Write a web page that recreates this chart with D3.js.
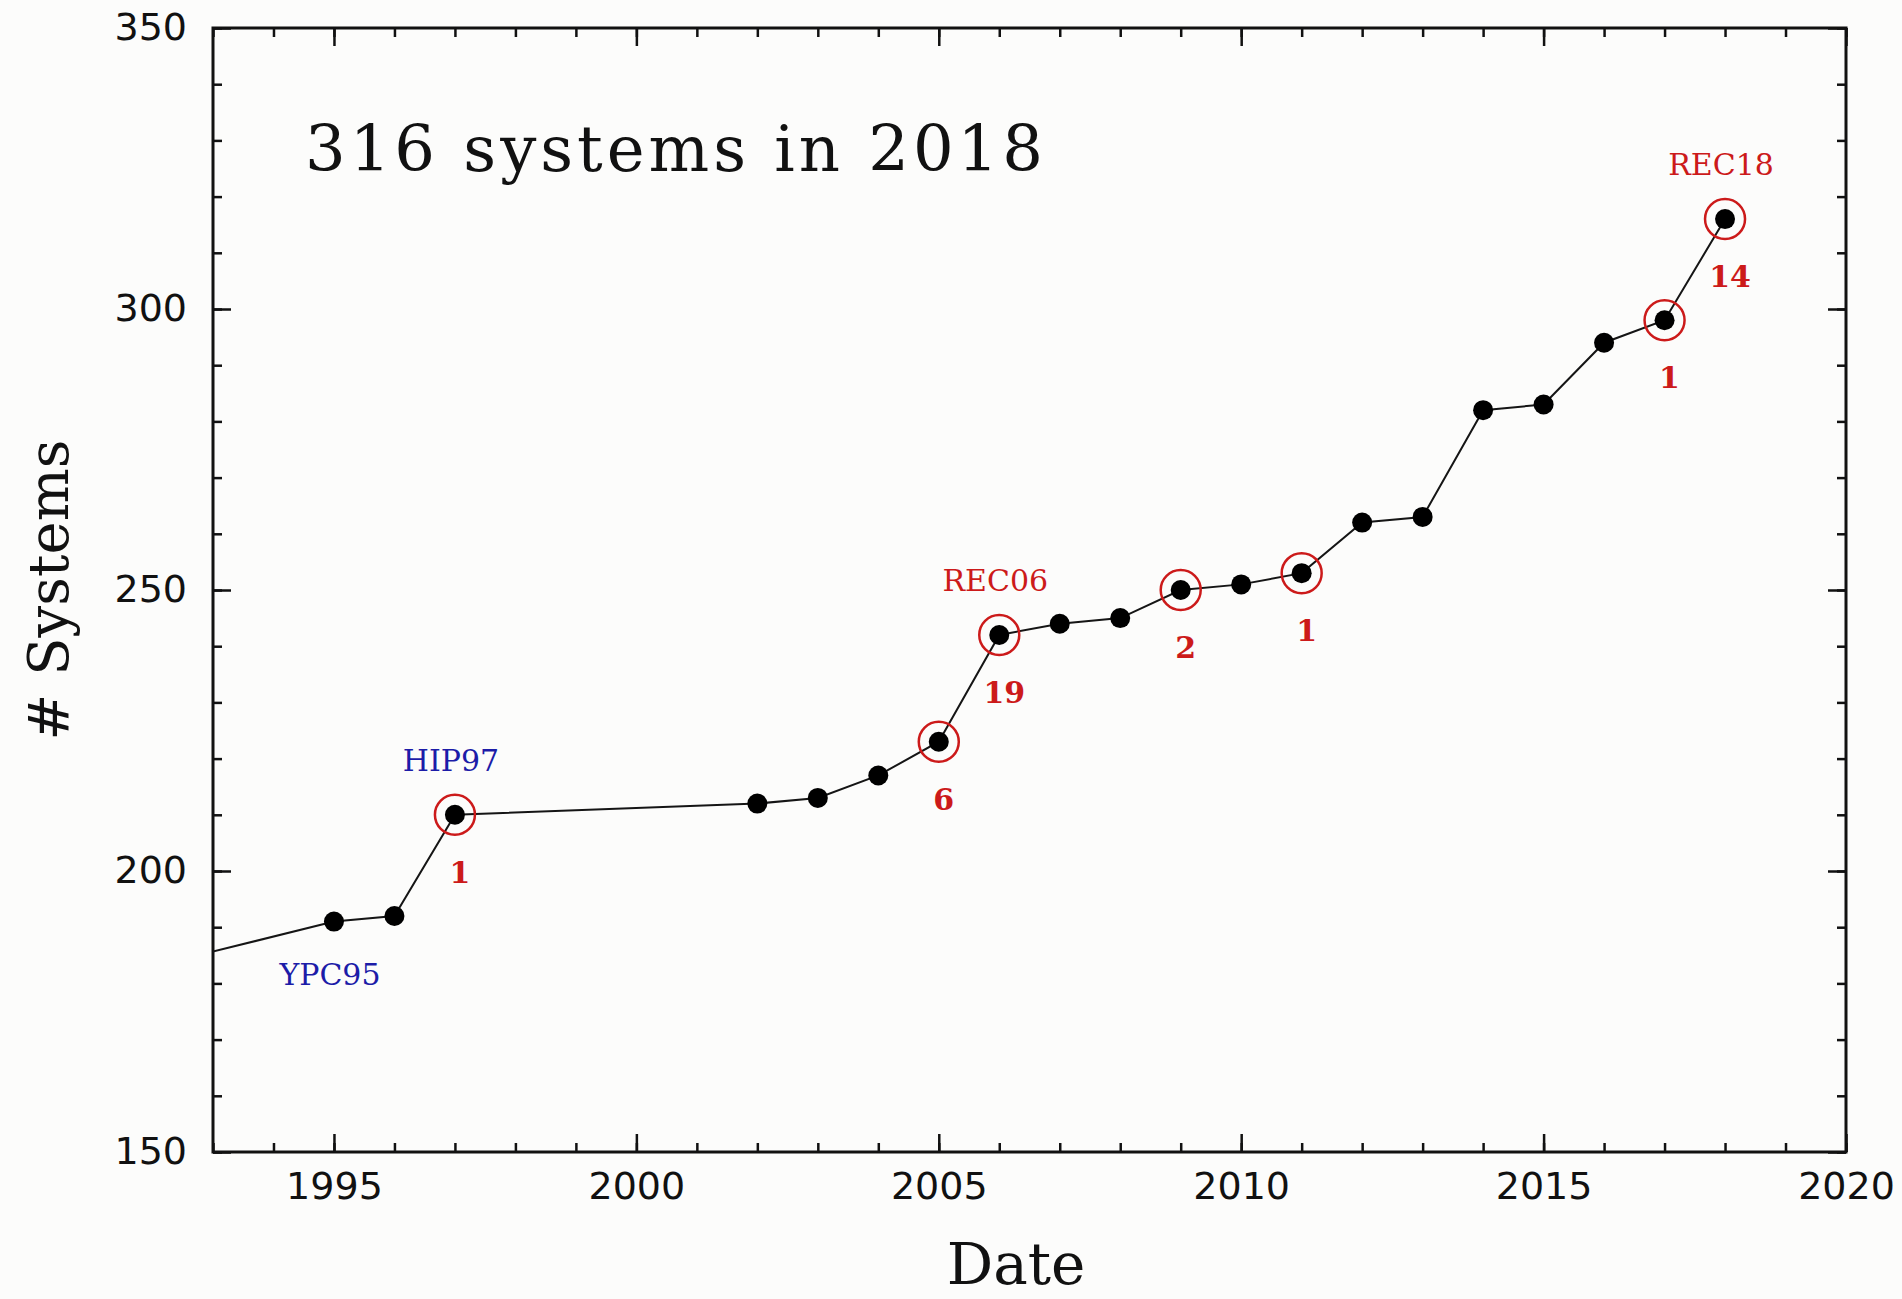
<!DOCTYPE html>
<html lang="en">
<head>
<meta charset="utf-8">
<title># Systems vs Date</title>
<script src="https://d3js.org/d3.v7.min.js"></script>
<style>
  body { margin: 0; background: #fcfcfb; }
  .tick text { font-family: "DejaVu Sans", Arial, sans-serif; fill: #111; }
  .domain { display: none; }
  .tick line { stroke: #111; stroke-width: 2.5; }
</style>
</head>
<body>
<div id="chart"></div>
<script>
// data
const years   = [1992, 1995, 1996, 1997, 2002, 2003, 2004, 2005, 2006, 2007, 2008, 2009, 2010, 2011, 2012, 2013, 2014, 2015, 2016, 2017, 2018];
const systems = [183,  191,  192,  210,  212,  213,  217,  223,  242,  244,  245,  250,  251,  253,  262,  263,  282,  283,  294,  298,  316];

// red circles mark the years new orbits came from a paper
const circledYears = [1997, 2005, 2006, 2009, 2011, 2017, 2018];
const countLabels  = ["1", "6", "19", "2", "1", "1", "14"];

// reference names over / under a point
const refYears  = [1995, 1997, 2006, 2018];
const refNames  = ["YPC95", "HIP97", "REC06", "REC18"];
const refColors = ["#1c1ca8", "#1c1ca8", "#cc1a1a", "#cc1a1a"];
const refBelow  = [true, false, false, false];

const xTicks = [1995, 2000, 2005, 2010, 2015, 2020];
const yTicks = [150, 200, 250, 300, 350];

const title = "316 systems in 2018";

const W = 1902, H = 1299;
const m = { left: 213, right: 1846, top: 28, bottom: 1152 };

const svg = d3.select('#chart')
  .append('svg')
  .attr('width', W)
  .attr('height', H)
  .style('background-color', '#fcfcfb');

const x = d3.scaleLinear().domain([1993, 2020]).range([m.left, m.right]);
const y = d3.scaleLinear().domain([150, 350]).range([m.bottom, m.top]);

svg.append('clipPath').attr('id', 'plot')
  .append('rect')
  .attr('x', m.left).attr('y', m.top)
  .attr('width', m.right - m.left).attr('height', m.bottom - m.top);

// minor ticks, all four sides, pointing in
const xMinor = d3.range(1993, 2021);
const yMinor = d3.range(150, 351, 10);
svg.append('g').attr('transform', `translate(0,${m.bottom})`)
  .call(d3.axisBottom(x).tickValues(xMinor).tickSize(-9).tickFormat(''));
svg.append('g').attr('transform', `translate(0,${m.top})`)
  .call(d3.axisTop(x).tickValues(xMinor).tickSize(-9).tickFormat(''));
svg.append('g').attr('transform', `translate(${m.left},0)`)
  .call(d3.axisLeft(y).tickValues(yMinor).tickSize(-9).tickFormat(''));
svg.append('g').attr('transform', `translate(${m.right},0)`)
  .call(d3.axisRight(y).tickValues(yMinor).tickSize(-9).tickFormat(''));

// major ticks
svg.append('g').attr('transform', `translate(0,${m.bottom})`)
  .call(d3.axisBottom(x).tickValues(xTicks).tickSize(-18).tickPadding(20).tickFormat(d3.format('d')))
  .selectAll('text').style('font-size', '38px');
svg.append('g').attr('transform', `translate(0,${m.top})`)
  .call(d3.axisTop(x).tickValues(xTicks).tickSize(-18).tickFormat(''));
svg.append('g').attr('transform', `translate(${m.left},0)`)
  .call(d3.axisLeft(y).tickValues(yTicks).tickSize(-18).tickPadding(26))
  .selectAll('text').style('font-size', '38px').attr('dy', '0.3em');
svg.append('g').attr('transform', `translate(${m.right},0)`)
  .call(d3.axisRight(y).tickValues(yTicks).tickSize(-18).tickFormat(''));

// frame
svg.append('rect')
  .attr('x', m.left).attr('y', m.top)
  .attr('width', m.right - m.left).attr('height', m.bottom - m.top)
  .attr('fill', 'none').attr('stroke', '#111').attr('stroke-width', 3);

const points = years.map((yr, i) => ({ yr: yr, n: systems[i] }));
const valueAt = yr => points.find(p => p.yr === yr).n;

const plot = svg.append('g').attr('clip-path', 'url(#plot)');

plot.append('path')
  .datum(points)
  .attr('fill', 'none')
  .attr('stroke', '#151515')
  .attr('stroke-width', 2)
  .attr('d', d3.line().x(d => x(d.yr)).y(d => y(d.n)));

plot.selectAll('circle.ring')
  .data(circledYears)
  .enter()
  .append('circle')
  .attr('class', 'ring')
  .attr('cx', d => x(d))
  .attr('cy', d => y(valueAt(d)))
  .attr('r', 20)
  .attr('fill', 'none')
  .attr('stroke', '#cc1a1a')
  .attr('stroke-width', 2.5);

plot.selectAll('circle.dot')
  .data(points)
  .enter()
  .append('circle')
  .attr('class', 'dot')
  .attr('cx', d => x(d.yr))
  .attr('cy', d => y(d.n))
  .attr('r', 10)
  .attr('fill', '#000');

// counts under the circled points
svg.selectAll('text.count')
  .data(circledYears)
  .enter()
  .append('text')
  .attr('class', 'count')
  .attr('x', d => x(d) + 5)
  .attr('y', d => y(valueAt(d)) + 68)
  .attr('text-anchor', 'middle')
  .style('font-family', '"DejaVu Serif", serif')
  .style('font-size', '30px')
  .style('font-weight', 'bold')
  .attr('fill', '#cc1a1a')
  .text((d, i) => countLabels[i]);

svg.selectAll('text.ref')
  .data(refYears)
  .enter()
  .append('text')
  .attr('class', 'ref')
  .attr('x', d => x(d) - 4)
  .attr('y', (d, i) => y(valueAt(d)) + (refBelow[i] ? 63 : -44))
  .attr('text-anchor', 'middle')
  .style('font-family', '"DejaVu Serif", serif')
  .style('font-size', '30px')
  .attr('fill', (d, i) => refColors[i])
  .text((d, i) => refNames[i]);

svg.append('text')
  .attr('x', 305)
  .attr('y', 171)
  .attr('textLength', 738)
  .attr('lengthAdjust', 'spacing')
  .style('font-family', '"DejaVu Serif", serif')
  .style('font-size', '64px')
  .attr('fill', '#111')
  .text(title);

svg.append('text')
  .attr('x', 1016)
  .attr('y', 1284)
  .attr('text-anchor', 'middle')
  .style('font-family', '"DejaVu Serif", serif')
  .style('font-size', '58px')
  .attr('fill', '#111')
  .text('Date');

svg.append('text')
  .attr('transform', `translate(68,590) rotate(-90)`)
  .attr('text-anchor', 'middle')
  .style('font-family', '"DejaVu Serif", serif')
  .style('font-size', '56px')
  .attr('fill', '#111')
  .text('# Systems');
</script>
</body>
</html>
